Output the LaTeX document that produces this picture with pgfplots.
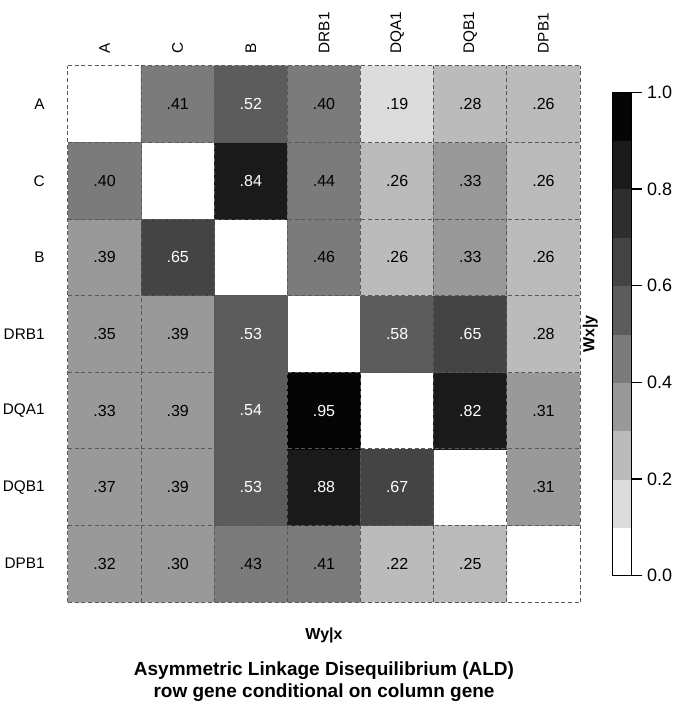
\documentclass[border=0pt]{standalone}
\usepackage{fontspec}
\setmainfont{Liberation Sans}
\usepackage{pgfplots}
\usepackage{pgfplotstable}
\pgfplotsset{compat=1.18}

% cells: x = column (A,C,B,DRB1,DQA1,DQB1,DPB1), y = row from bottom (DPB1=0 ... A=6)
\pgfplotstableread{
x y v
0 0 0.32
1 0 0.30
2 0 0.43
3 0 0.41
4 0 0.22
5 0 0.25
6 0 nan
0 1 0.37
1 1 0.39
2 1 0.53
3 1 0.88
4 1 0.67
5 1 nan
6 1 0.31
0 2 0.33
1 2 0.39
2 2 0.54
3 2 0.95
4 2 nan
5 2 0.82
6 2 0.31
0 3 0.35
1 3 0.39
2 3 0.53
3 3 nan
4 3 0.58
5 3 0.65
6 3 0.28
0 4 0.39
1 4 0.65
2 4 nan
3 4 0.46
4 4 0.26
5 4 0.33
6 4 0.26
0 5 0.40
1 5 nan
2 5 0.84
3 5 0.44
4 5 0.26
5 5 0.33
6 5 0.26
0 6 nan
1 6 0.41
2 6 0.52
3 6 0.40
4 6 0.19
5 6 0.28
6 6 0.26
}\cells

% printed values, dark text below .5, white text from .5
\pgfplotstableread{
x y lab
0 0 .32
1 0 .30
2 0 .43
3 0 .41
4 0 .22
5 0 .25
0 1 .37
1 1 .39
6 1 .31
0 2 .33
1 2 .39
6 2 .31
0 3 .35
1 3 .39
6 3 .28
0 4 .39
3 4 .46
4 4 .26
5 4 .33
6 4 .26
0 5 .40
3 5 .44
4 5 .26
5 5 .33
6 5 .26
1 6 .41
3 6 .40
4 6 .19
5 6 .28
6 6 .26
}\blacklabs

\pgfplotstableread{
x y lab
2 1 .53
3 1 .88
4 1 .67
2 2 .54
3 2 .95
5 2 .82
2 3 .53
4 3 .58
5 3 .65
1 4 .65
2 5 .84
2 6 .52
}\whitelabs

\begin{document}
\begin{tikzpicture}
\begin{axis}[
    scale only axis,
    width=384pt, height=402pt,
    xmin=-0.5, xmax=6.5, ymin=-0.5, ymax=6.5,
    enlargelimits=false,
    axis on top,
    axis line style={draw=none},
    xtick={0,...,6}, ytick={0,...,6},
    xticklabels={A,C,B,DRB1,DQA1,DQB1,DPB1},
    yticklabels={DPB1,DQB1,DQA1,DRB1,B,C,A},
    xticklabel pos=upper,
    xticklabel style={rotate=90, anchor=west},
    xticklabel shift=6pt,
    yticklabel shift=14pt,
    ticklabel style={font=\fontsize{11.5}{13}\selectfont},
    major tick length=0pt,
    minor xtick={-0.5,0.5,1.5,2.5,3.5,4.5,5.5,6.5},
    minor ytick={-0.5,0.5,1.5,2.5,3.5,4.5,5.5,6.5},
    minor tick length=0pt,
    xminorgrids, yminorgrids,
    minor grid style={draw=black!65, line width=0.75pt, dash pattern=on 3pt off 2pt},
    % ten grey classes of width 0.1
    colormap={ald}{rgb255=(255,255,255) rgb255=(220,220,220) rgb255=(187,187,187)
        rgb255=(153,153,153) rgb255=(123,123,123) rgb255=(92,92,92) rgb255=(68,68,68)
        rgb255=(46,46,46) rgb255=(26,26,26) rgb255=(5,5,5)},
    colormap access=piecewise constant,
    point meta min=0, point meta max=1,
    unbounded coords=jump,
    xlabel={Wy|x},
    xlabel style={at={(axis description cs:0.5,0)}, anchor=center, yshift=-24.75pt,
        font=\fontsize{12}{14}\selectfont\bfseries},
    title={Asymmetric Linkage Disequilibrium (ALD)\\row gene conditional on column gene},
    title style={at={(axis description cs:0.5,0)}, anchor=center, yshift=-66pt,
        align=center, font=\fontsize{14.25}{16.5}\selectfont\bfseries},
    colorbar,
    colorbar style={
        at={(parent axis.east)}, anchor=west, xshift=15.75pt,
        width=14.25pt, height=362.25pt,
        ytick={0,0.2,0.4,0.6,0.8,1},
        ytick pos=right,
        tick align=outside,
        major tick length=8.25pt,
        tick style={black, line width=1pt},
        axis line style={black, line width=1.1pt},
        yticklabel style={font=\fontsize{13.5}{15}\selectfont,
            /pgf/number format/.cd, fixed, fixed zerofill, precision=1,
            assume math mode=true},
        ylabel={Wx|y},
        ylabel style={at={(axis description cs:-1.16,0.5)}, anchor=center,
            font=\fontsize{12}{14}\selectfont\bfseries},
    },
]
\addplot[matrix plot*, mesh/cols=7, point meta=explicit] table[x=x, y=y, meta=v] {\cells};

\addplot[only marks, mark=none, point meta=explicit symbolic,
    nodes near coords, nodes near coords align={center},
    every node near coord/.append style={font=\fontsize{12}{14}\selectfont, text=black}]
    table[x=x, y=y, meta=lab] {\blacklabs};

\addplot[only marks, mark=none, point meta=explicit symbolic,
    nodes near coords, nodes near coords align={center},
    every node near coord/.append style={font=\fontsize{12}{14}\selectfont, text=white}]
    table[x=x, y=y, meta=lab] {\whitelabs};
\end{axis}
\pgfresetboundingbox
\path ([xshift=-51pt, yshift=-80.25pt]current axis.south west) rectangle ++(509.25pt, 531.75pt);
\end{tikzpicture}
\end{document}
